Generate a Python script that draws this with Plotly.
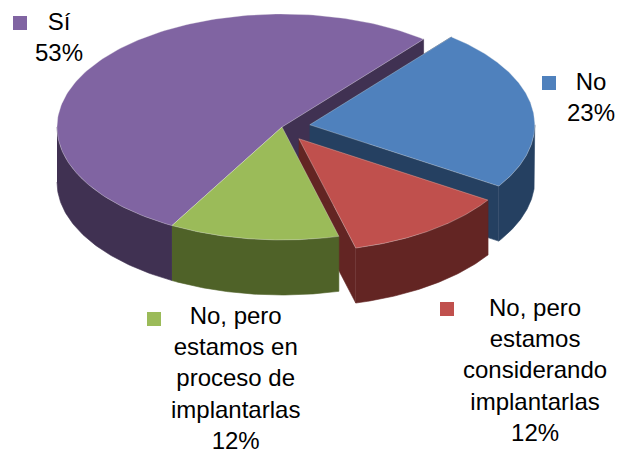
import numpy as np
import plotly.graph_objects as go

# Data
categories = ["Sí", "No, pero<br>estamos en<br>proceso de<br>implantarlas",
              "No, pero<br>estamos<br>considerando<br>implantarlas", "No"]
values = [52.7, 12.2, 11.8, 23.3]
top_colors = ["#8064A2", "#9BBB59", "#C0504D", "#4F81BD"]
side_colors = ["#403152", "#4F6228", "#632523", "#254061"]
explode = [0.0, 0.0, 0.128, 0.125]

# Layout of the drawing (pixel-like axis units)
W, H = 617, 453
CX, CY, A, B, DEPTH = 282, 127, 225, 113, 55
START_DEG = 51
label_pos = [(59, 37), (235, 378), (535, 370), (591, 97)]
marker_pos = [(20, 23), (154, 319), (447, 309), (549, 83)]
EDGE = "rgba(235,235,235,0.55)"

fracs = np.array(values) / sum(values)
ends = START_DEG + np.cumsum(fracs) * 360
starts = ends - fracs * 360


def pt(cx, cy, deg):
    r = np.radians(deg)
    return cx + A * np.cos(r), cy - B * np.sin(r)


def poly(fig, xs, ys, color, line=None, width=0.6):
    fig.add_trace(go.Scatter(x=list(xs), y=list(ys), mode="lines", fill="toself",
                             fillcolor=color, hoverinfo="skip", showlegend=False,
                             line=dict(color=line or color, width=width)))


def slice_faces(fig, i):
    s, e = starts[i], ends[i]
    mid = np.radians((s + e) / 2)
    cx = CX + explode[i] * A * np.cos(mid)
    cy = CY - explode[i] * B * np.sin(mid)
    # inner walls
    for deg in (s, e):
        px, py = pt(cx, cy, deg)
        if np.sin(np.radians(deg)) > 0 and np.cos(np.radians(deg)) < 0:
            continue
        if i == 0 and deg == e:
            continue
        if i == 1:
            continue
        poly(fig, [cx, px, px, cx], [cy, py, py + DEPTH, cy + DEPTH], side_colors[i])
    # outer wall: only the part facing the viewer (lower half of ellipse)
    for lo, hi in ((180, 360), (540, 720)):
        l, h = max(s, lo), min(e, hi)
        if h > l:
            t = np.linspace(l, h, 80)
            xs, ys = pt(cx, cy, t)
            poly(fig, np.r_[xs, xs[::-1]], np.r_[ys, ys[::-1] + DEPTH], side_colors[i])
    # top face
    t = np.linspace(s, e, 160)
    xs, ys = pt(cx, cy, t)
    poly(fig, np.r_[cx, xs, cx], np.r_[cy, ys, cy], top_colors[i], line=EDGE)


fig = go.Figure()
for i in (0, 3, 2, 1):
    slice_faces(fig, i)

fig.add_trace(go.Scatter(x=[p[0] for p in marker_pos], y=[p[1] for p in marker_pos],
                         mode="markers", hoverinfo="skip", showlegend=False,
                         marker=dict(symbol="square", size=14, color=top_colors,
                                     line=dict(width=0))))

for cat, val, (x, y) in zip(categories, values, label_pos):
    fig.add_annotation(x=x, y=y, text=f"{cat}<br>{round(val)}%", showarrow=False,
                       xanchor="center", yanchor="middle", align="center",
                       font=dict(family="Liberation Sans", size=24, color="#000000"))

fig.update_layout(width=W, height=H, margin=dict(l=0, r=0, t=14, b=0),
                  paper_bgcolor="white", plot_bgcolor="white", showlegend=False,
                  xaxis=dict(range=[0, W], visible=False, fixedrange=True),
                  yaxis=dict(range=[H, 14], visible=False, fixedrange=True))
fig.write_html("out.html", config=dict(displayModeBar=False),
               post_script="document.body.style.margin='0';document.body.style.overflow='hidden';")
